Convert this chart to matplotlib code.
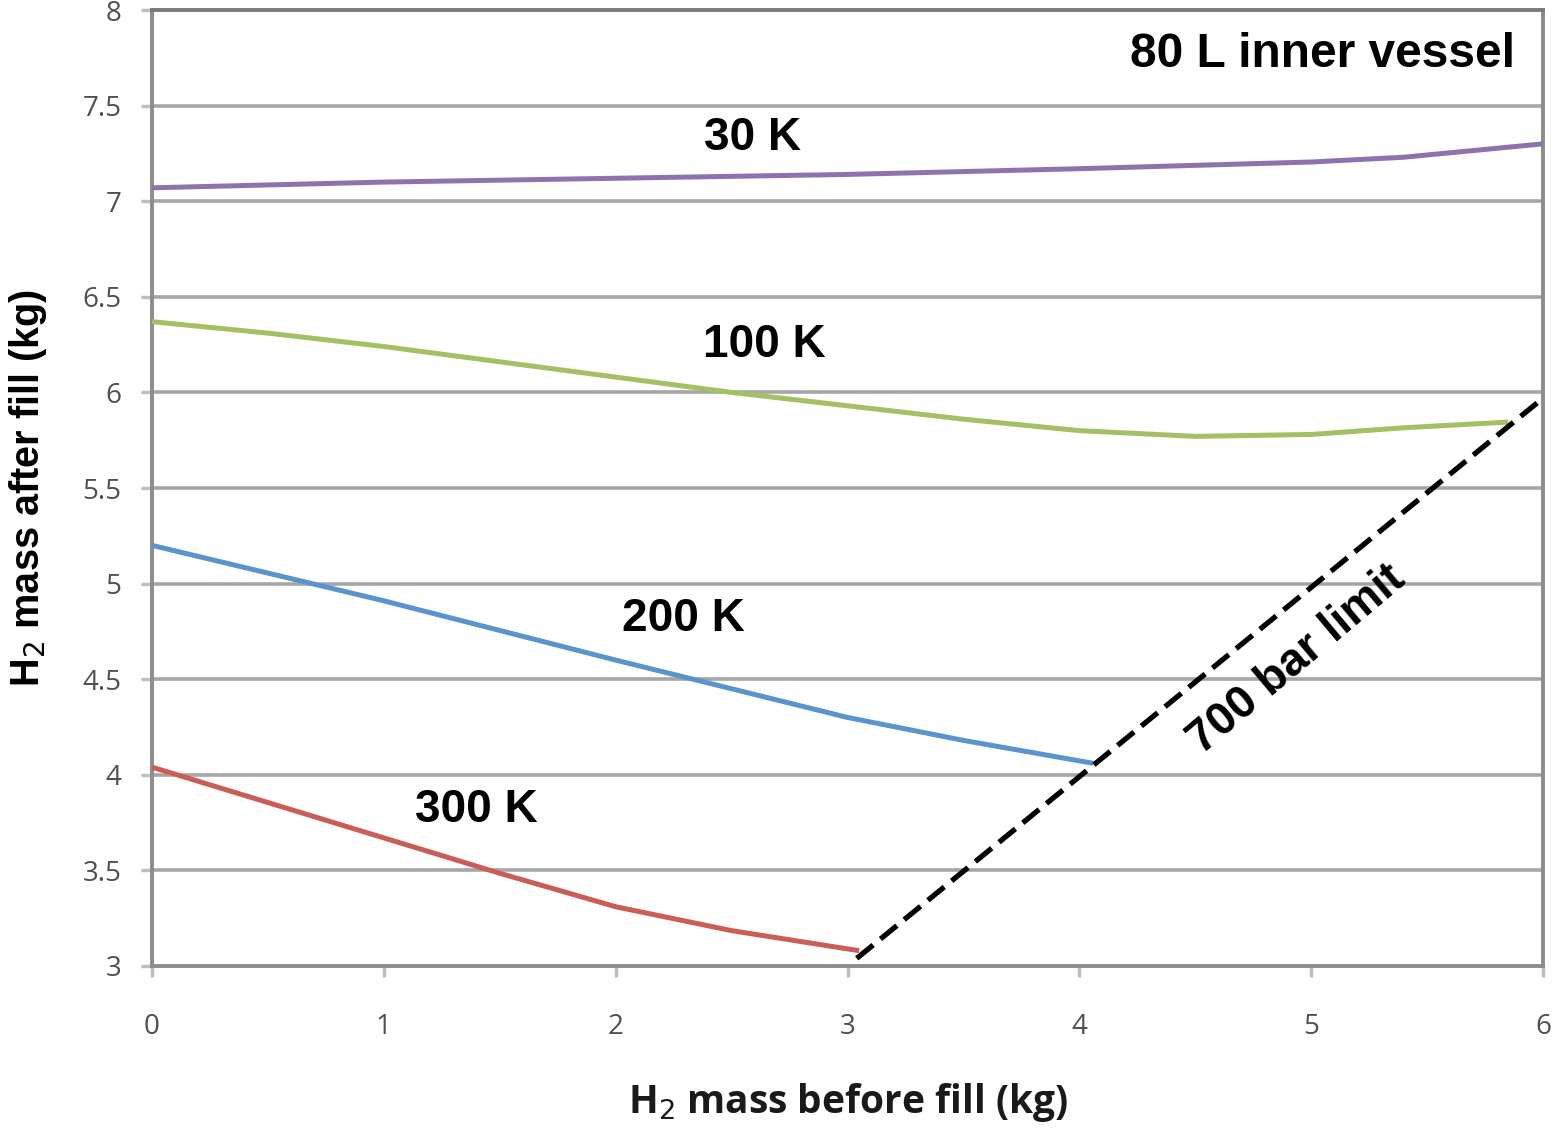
import matplotlib
matplotlib.use("Agg")
import matplotlib.pyplot as plt

# Data
x_30K = [0, 1, 2, 3, 4, 5, 5.4, 6]
y_30K = [7.07, 7.10, 7.12, 7.14, 7.17, 7.205, 7.23, 7.30]

x_100K = [0, 0.5, 1, 1.5, 2, 2.5, 3, 3.5, 4, 4.5, 5, 5.4, 5.85]
y_100K = [6.37, 6.31, 6.24, 6.16, 6.08, 6.00, 5.93, 5.86, 5.80, 5.77, 5.78, 5.815, 5.845]

x_200K = [0, 0.5, 1, 1.5, 2, 2.5, 3, 3.5, 4.06]
y_200K = [5.20, 5.055, 4.91, 4.755, 4.60, 4.45, 4.30, 4.18, 4.06]

x_300K = [0, 0.5, 1, 1.5, 2, 2.5, 3.05]
y_300K = [4.04, 3.855, 3.67, 3.485, 3.31, 3.185, 3.08]

x_limit = [3.04, 6.0]
y_limit = [3.04, 5.97]

x_ticks = [0, 1, 2, 3, 4, 5, 6]
y_ticks = [3, 3.5, 4, 4.5, 5, 5.5, 6, 6.5, 7, 7.5, 8]
y_ticklabels = ["3", "3.5", "4", "4.5", "5", "5.5", "6", "6.5", "7", "7.5", "8"]

fig = plt.figure(figsize=(15.56, 11.29), dpi=100)
ax = fig.add_axes([152/1556, 1-966/1129, (1543-152)/1556, (966-10)/1129])

ax.set_xlim(0, 6)
ax.set_ylim(3, 8)

spine_col = "#8c8c8c"
grid_col = "#a6a6a6"
for y in y_ticks[1:-1]:
    ax.axhline(y, color=grid_col, lw=2.6, zorder=1)

for s in ax.spines.values():
    s.set_color(spine_col)
    s.set_linewidth(2.8)
ax.spines["top"].set_color("#7a7a7a")

lw = 3.6
ax.plot(x_30K, y_30K, color="#8e72b0", lw=lw, zorder=3, solid_capstyle="butt")
ax.plot(x_100K, y_100K, color="#a3c065", lw=lw, zorder=3, solid_capstyle="butt")
ax.plot(x_200K, y_200K, color="#5b93cc", lw=lw, zorder=3, solid_capstyle="butt")
ax.plot(x_300K, y_300K, color="#cc5c58", lw=lw, zorder=3, solid_capstyle="butt")
ax.plot(x_limit, y_limit, color="black", lw=3.8, dashes=(4, 1.8), zorder=4, clip_on=False)

ax.set_xticks(x_ticks)
ax.set_xticklabels([str(v) for v in x_ticks])
ax.set_yticks(y_ticks)
ax.set_yticklabels(y_ticklabels)
ax.tick_params(axis="both", colors="#bfbfbf", length=8, width=2.5, direction="out")
ax.tick_params(axis="x", pad=26)
ax.tick_params(axis="y", pad=14)
for lab in ax.get_xticklabels() + ax.get_yticklabels():
    lab.set_fontfamily("Open Sans")
    lab.set_fontsize(20)
    lab.set_color("#505050")

ax.set_xlabel("H$_2$ mass before fill (kg)", fontfamily="Open Sans", fontweight="bold",
              fontsize=28, color="#1a1a1a", labelpad=29)
ax.set_ylabel("H$_2$ mass after fill (kg)", fontfamily="Liberation Sans", fontweight="bold",
              fontsize=28.5, color="black", labelpad=24)

tfont = dict(fontfamily="Liberation Sans", fontweight="bold", fontsize=33, color="black")
ax.text(5.88, 7.765, "80 L inner vessel", ha="right", va="center",
        **{**tfont, "fontsize": 34.5})
ax.text(2.59, 7.33, "30 K", ha="center", va="center", **tfont)
ax.text(2.64, 6.25, "100 K", ha="center", va="center", **tfont)
ax.text(2.29, 4.815, "200 K", ha="center", va="center", **tfont)
ax.text(1.40, 3.815, "300 K", ha="center", va="center", **tfont)
ax.text(4.94, 4.60, "700 bar limit", ha="center", va="center", rotation=40,
        rotation_mode="anchor", **tfont)

fig.savefig("out.png", dpi=100)
